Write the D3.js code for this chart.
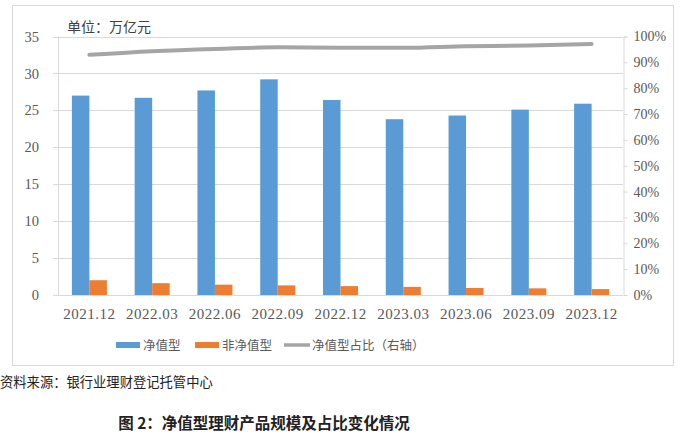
<!DOCTYPE html>
<html><head><meta charset="utf-8">
<script src="https://cdn.jsdelivr.net/npm/d3@7"></script>
<style>
body{margin:0;background:#fff;}
svg{display:block;}
</style></head>
<body>
<script>
const categories = ["2021.12","2022.03","2022.06","2022.09","2022.12","2023.03","2023.06","2023.09","2023.12"];
const netValue = [27.0, 26.7, 27.7, 29.2, 26.4, 23.8, 24.3, 25.1, 25.9];
const nonNetValue = [2.0, 1.6, 1.4, 1.3, 1.2, 1.1, 0.95, 0.9, 0.8];
const netShare = [0.929, 0.943, 0.952, 0.958, 0.956, 0.956, 0.962, 0.965, 0.971];
const leftTicks = [0,5,10,15,20,25,30,35];
const rightTicks = [0,0.1,0.2,0.3,0.4,0.5,0.6,0.7,0.8,0.9,1.0];
const seriesNames = ["净值型","非净值型","净值型占比（右轴）"];
const unitLabel = "单位：万亿元";
const sourceText = "资料来源：银行业理财登记托管中心";
const captionText = "图 2：净值型理财产品规模及占比变化情况";

const W=681,H=435;
const svg=d3.select("body").append("svg").attr("width",W).attr("height",H);
const m={l:58,r:623,t:36.5,b:295};
const serif="Liberation Serif, Times New Roman, DejaVu Serif, serif";
const cjk="Noto Sans CJK SC, Noto Sans, sans-serif";
const blue="#5B9BD5",orange="#ED7D31",gray="#A5A5A5",grid="#D9D9D9",txt="#595959";

// frame
svg.append("rect").attr("x",12.5).attr("y",5.5).attr("width",661).attr("height",360)
  .attr("fill","none").attr("stroke","#D9D9D9").attr("stroke-width",1);

const x=d3.scaleBand().domain(categories).range([m.l,m.r]);
const y=d3.scaleLinear().domain([0,35]).range([m.b,m.t]);
const y2=d3.scaleLinear().domain([0,1]).range([m.b,m.t]);

// gridlines
svg.append("g").selectAll("line").data(leftTicks).join("line")
  .attr("x1",m.l-5).attr("x2",m.r).attr("y1",d=>Math.round(y(d))+0.5).attr("y2",d=>Math.round(y(d))+0.5)
  .attr("stroke",grid).attr("stroke-width",1);
// left axis line
svg.append("line").attr("x1",m.l+0.5).attr("x2",m.l+0.5).attr("y1",m.t).attr("y2",m.b).attr("stroke",grid);

// left labels
const gl=svg.append("g").attr("transform",`translate(${m.l},0)`).call(d3.axisLeft(y).tickValues(leftTicks).tickSize(0).tickPadding(19));
gl.select(".domain").remove();
gl.attr("font-family",null);
gl.selectAll("text").style("font-family",serif).attr("font-size",14.5).attr("fill",txt);

// right axis
const gr=svg.append("g").attr("transform",`translate(${m.r+0.5},0)`).call(d3.axisRight(y2).tickValues(rightTicks).tickSize(4).tickPadding(6).tickFormat(d3.format(".0%")));
gr.attr("font-family",null);
gr.select(".domain").attr("stroke",grid);
gr.selectAll(".tick line").attr("stroke",grid);
gr.selectAll("text").style("font-family",serif).attr("font-size",14).attr("fill",txt);

// bars
const bw=17.5;
svg.append("g").selectAll("rect").data(netValue).join("rect")
  .attr("x",(d,i)=>x(categories[i])+x.bandwidth()/2-bw).attr("width",bw)
  .attr("y",d=>y(d)).attr("height",d=>m.b-y(d)).attr("fill",blue);
svg.append("g").selectAll("rect").data(nonNetValue).join("rect")
  .attr("x",(d,i)=>x(categories[i])+x.bandwidth()/2).attr("width",bw)
  .attr("y",d=>y(d)).attr("height",d=>m.b-y(d)).attr("fill",orange);

// line
const line=d3.line().x((d,i)=>x(categories[i])+x.bandwidth()/2).y(d=>y2(d)).curve(d3.curveMonotoneX);
svg.append("path").datum(netShare).attr("d",line).attr("fill","none").attr("stroke",gray).attr("stroke-width",4).attr("stroke-linecap","round");

// category labels
svg.append("g").selectAll("text").data(categories).join("text")
  .attr("x",d=>x(d)+x.bandwidth()/2).attr("y",319).attr("text-anchor","middle")
  .style("font-family",serif).attr("font-size",15).attr("letter-spacing",0.5).attr("fill",txt).text(d=>d);

// unit label
svg.append("text").attr("x",67).attr("y",32).style("font-family",cjk).attr("font-size",14).attr("fill","#404040").text(unitLabel);

// legend
const lg=svg.append("g").style("font-family",cjk).attr("font-size",12.5).attr("fill",txt);
const items=[{x:116,c:blue,t:seriesNames[0],type:"rect"},{x:195,c:orange,t:seriesNames[1],type:"rect"},{x:284,c:gray,t:seriesNames[2],type:"line"}];
items.forEach(it=>{
  if(it.type==="rect") lg.append("rect").attr("x",it.x).attr("y",342).attr("width",24).attr("height",6).attr("fill",it.c);
  else lg.append("line").attr("x1",it.x).attr("x2",it.x+26).attr("y1",345).attr("y2",345).attr("stroke",it.c).attr("stroke-width",3.5);
  lg.append("text").attr("x",it.x+(it.type==="rect"?27:28)).attr("y",349.5).text(it.t);
});

// source
svg.append("text").attr("x",0).attr("y",387).style("font-family",cjk).attr("font-size",13.3).attr("fill","#222").text(sourceText);
// caption
svg.append("text").attr("x",264).attr("y",429).attr("text-anchor","middle").style("font-family",cjk).attr("font-size",15.5).attr("font-weight","bold").attr("fill","#222").text(captionText);
</script>
</body></html>
